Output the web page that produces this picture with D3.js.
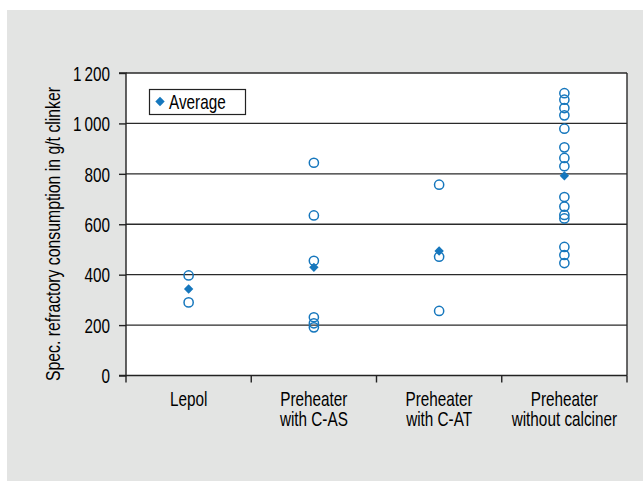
<!DOCTYPE html>
<html>
<head>
<meta charset="utf-8">
<script src="https://cdn.jsdelivr.net/npm/d3@7"></script>
<style>
  html, body { margin: 0; padding: 0; background: #ffffff; }
  svg { display: block; }
  text { font-family: "Liberation Sans", Arial, sans-serif; fill: #000; }
</style>
</head>
<body>
<svg id="chart" width="643" height="481"></svg>
<script>
// ---- data ----
const categories = ["Lepol", "Preheater\nwith C-AS", "Preheater\nwith C-AT", "Preheater\nwithout calciner"];
const lepolValues = [397, 290];
const casValues = [844, 635, 455, 231, 207, 191];
const catValues = [757, 471, 256];
const noCalcinerValues = [1120, 1094, 1061, 1032, 979, 905, 863, 830, 708, 670, 637, 623, 510, 478, 446];
const averages = [343, 429, 494, 792];
const yTicks = [0, 200, 400, 600, 800, 1000, 1200];
const yTickLabels = ["0", "200", "400", "600", "800", "1\u2009000", "1\u2009200"];
const yTitle = "Spec. refractory consumption in g/t clinker";
const legendLabel = "Average";

const seriesValues = [lepolValues, casValues, catValues, noCalcinerValues];

// ---- layout ----
const svg = d3.select("#chart");
const W = 643, H = 481;
const plot = { left: 126, right: 627, top: 73, bottom: 375.5 };
const blue = "#1677bd";
const SX = 0.765;     // horizontal condensing of the font
const FS = "20px";

svg.append("rect").attr("x", 7).attr("y", 10).attr("width", W - 7).attr("height", H - 10).attr("fill", "#e3e4e3");
svg.append("rect").attr("x", plot.left).attr("y", plot.top)
  .attr("width", plot.right - plot.left).attr("height", plot.bottom - plot.top).attr("fill", "#ffffff");

const x = d3.scaleBand().domain(categories).range([plot.left, plot.right]).padding(0);
const y = d3.scaleLinear().domain([0, 1200]).range([plot.bottom, plot.top]);

// gridlines
svg.append("g").selectAll("line").data(yTicks.filter(d => d > 0)).join("line")
  .attr("x1", plot.left).attr("x2", plot.right)
  .attr("y1", d => y(d)).attr("y2", d => y(d))
  .attr("stroke", "#2a2a2a").attr("stroke-width", 1.4);

// right border
svg.append("line").attr("x1", plot.right).attr("x2", plot.right)
  .attr("y1", plot.top).attr("y2", plot.bottom)
  .attr("stroke", "#2a2a2a").attr("stroke-width", 1.4);

// y axis
const yAxis = d3.axisLeft(y).tickValues(yTicks)
  .tickFormat((d, i) => yTickLabels[i]).tickSize(7).tickPadding(9);
const gy = svg.append("g").attr("transform", `translate(${plot.left},0)`).call(yAxis);
gy.select(".domain").attr("stroke", "#222").attr("stroke-width", 1.4).attr("d", `M-7,${plot.top}H0V${plot.bottom}H-7`);
gy.selectAll(".tick line").attr("stroke", "#222").attr("stroke-width", 1.4);
gy.selectAll(".tick text")
  .style("font-size", FS).style("font-family", '"Liberation Sans", Arial, sans-serif')
  .attr("fill", "#000")
  .attr("x", -16 / SX)
  .attr("dy", "0.36em")
  .attr("transform", `scale(${SX},1)`);

// x axis
const edges = categories.map(c => x(c)).concat([plot.right]);
const gx = svg.append("g");
gx.append("line").attr("x1", plot.left).attr("x2", plot.right)
  .attr("y1", plot.bottom).attr("y2", plot.bottom)
  .attr("stroke", "#222").attr("stroke-width", 1.4);
gx.selectAll("line.tk").data(edges).join("line").attr("class", "tk")
  .attr("x1", d => d).attr("x2", d => d)
  .attr("y1", plot.bottom).attr("y2", plot.bottom + 7)
  .attr("stroke", "#222").attr("stroke-width", 1.4);
gx.selectAll("text.cat").data(categories).join("text").attr("class", "cat")
  .attr("transform", d => `translate(${x(d) + x.bandwidth() / 2},405.5) scale(${SX},1)`)
  .attr("text-anchor", "middle")
  .style("font-size", FS)
  .each(function (d) {
    const lines = d.split("\n");
    d3.select(this).selectAll("tspan").data(lines).join("tspan")
      .attr("x", 0)
      .attr("dy", (l, i) => i === 0 ? 0 : 21)
      .text(l => l);
  });

// y title
svg.append("text")
  .attr("transform", `translate(60,234) rotate(-90) scale(0.79,1)`)
  .attr("text-anchor", "middle")
  .style("font-size", FS)
  .text(yTitle);

// points
const pts = [];
seriesValues.forEach((vals, i) => vals.forEach(v => pts.push({ c: categories[i], v })));
svg.append("g").selectAll("circle").data(pts).join("circle")
  .attr("cx", d => x(d.c) + x.bandwidth() / 2)
  .attr("cy", d => y(d.v))
  .attr("r", 4.6)
  .attr("fill", "none")
  .attr("stroke", blue)
  .attr("stroke-width", 1.5);

// averages (square rotated 45° = diamond)
const diamond = d3.symbol().type(d3.symbolSquare).size(44);
svg.append("g").selectAll("path").data(averages).join("path")
  .attr("d", diamond)
  .attr("transform", (d, i) => `translate(${x(categories[i]) + x.bandwidth() / 2},${y(d)}) rotate(45)`)
  .attr("fill", blue);

// legend
const lg = svg.append("g");
lg.append("rect").attr("x", 149.5).attr("y", 89.5).attr("width", 96).attr("height", 25)
  .attr("fill", "#fff").attr("stroke", "#222").attr("stroke-width", 1.2);
lg.append("path").attr("d", diamond).attr("transform", "translate(160,101.5) rotate(45)").attr("fill", blue);
lg.append("text").attr("transform", `translate(169,108.5) scale(${SX},1)`).style("font-size", FS).text(legendLabel);
</script>
</body>
</html>
